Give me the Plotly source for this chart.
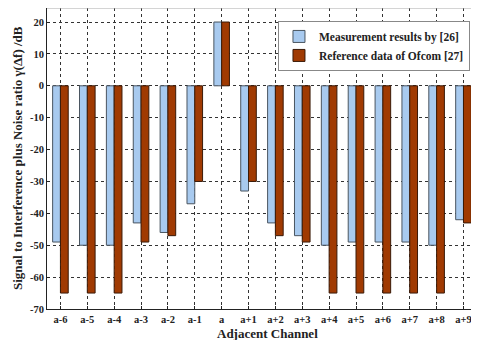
import plotly.graph_objects as go

categories = ["a-6", "a-5", "a-4", "a-3", "a-2", "a-1", "a", "a+1", "a+2", "a+3",
              "a+4", "a+5", "a+6", "a+7", "a+8", "a+9"]
measurement = [-49, -50, -50, -43, -46, -37, 20, -33, -43, -47, -50, -49, -49, -49, -50, -42]
ofcom = [-65, -65, -65, -49, -47, -30, 20, -30, -47, -49, -65, -65, -65, -65, -65, -43]
ytick_vals = [20, 10, 0, -10, -20, -30, -40, -50, -60, -70]
ytick_text = ["20", "10", "0", "-10", "-20", "-30", "-40", "-50", "-60", "-70"]

font_fam = "Liberation Serif, Times New Roman, serif"
txt = "#222"

fig = go.Figure()
fig.add_trace(go.Bar(
    x=list(range(len(categories))), y=measurement, name="Measurement results by [26]",
    marker=dict(color="#a8caef", line=dict(color="#4a5560", width=1)),
))
fig.add_trace(go.Bar(
    x=list(range(len(categories))), y=ofcom, name="Reference data of Ofcom [27]",
    marker=dict(color="#a03a02", line=dict(color="#3a1a08", width=1)),
))

fig.update_layout(
    width=463, height=332,
    margin=dict(l=39, r=0, t=0, b=31, autoexpand=False),
    paper_bgcolor="white", plot_bgcolor="white",
    barmode="group", bargap=0.42, bargroupgap=0,
    font=dict(family=font_fam, size=10, color=txt, weight=700),
    showlegend=True,
    legend=dict(
        x=0.9976, y=0.957, xanchor="right", yanchor="top",
        bgcolor="white", bordercolor="#888", borderwidth=1,
        font=dict(family=font_fam, size=11.5, color=txt, weight=700),
        tracegroupgap=0, itemwidth=30,
    ),
    xaxis=dict(
        tickmode="array", tickvals=list(range(len(categories))), ticktext=categories,
        range=[-0.5, 15.28], automargin=False, ticklabeloverflow="allow",
        showgrid=True, gridcolor="#333", griddash="dot", gridwidth=1,
        showline=True, linecolor="#222", linewidth=1,
        ticks="inside", ticklen=3, tickcolor="#222",
        zeroline=False,
        tickfont=dict(family=font_fam, size=10.5, color=txt, weight=700),
    ),
    yaxis=dict(
        tickmode="array", tickvals=ytick_vals, ticktext=ytick_text,
        range=[-70, 24.4], automargin=False,
        showgrid=True, gridcolor="#333", griddash="dot", gridwidth=1,
        showline=True, linecolor="#222", linewidth=1,
        ticks="inside", ticklen=3, tickcolor="#222",
        zeroline=False,
        tickfont=dict(family=font_fam, size=10.5, color=txt, weight=700),
    ),
)
fig.add_shape(type="line", xref="paper", yref="paper", x0=0, x1=1, y0=1, y1=1,
              line=dict(color="#aaa", width=1))
fig.add_annotation(text="Adjacent Channel", xref="paper", yref="paper",
                   x=0.52, y=0, yanchor="middle", yshift=-24, showarrow=False,
                   font=dict(family=font_fam, size=13, color=txt, weight=700))
fig.add_annotation(text="Signal to Interference plus Noise ratio γ(Δf) /dB",
                   xref="paper", yref="paper", x=0, y=0.5, xanchor="center",
                   yanchor="middle", xshift=-29.5, textangle=-90, showarrow=False,
                   font=dict(family=font_fam, size=13, color=txt, weight=700))

fig.write_html("out.html")
